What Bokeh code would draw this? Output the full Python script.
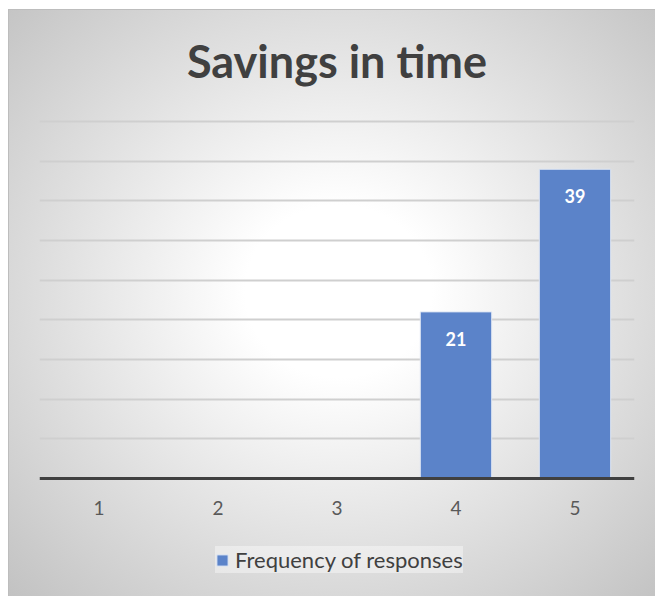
from bokeh.plotting import figure
from bokeh.models import ColumnDataSource, Range1d, FixedTicker, LabelSet, Legend, LegendItem
from bokeh.core.properties import value
from bokeh.embed import file_html
from bokeh.resources import INLINE

# Survey answers on a 1-5 scale and how many responses each got
categories = ["1", "2", "3", "4", "5"]
frequency = [0, 0, 0, 21, 39]
labels = ["", "", "", "21", "39"]
grid_ticks = [5, 10, 15, 20, 25, 30, 35, 40, 45]
chart_title = "Savings in time"

source = ColumnDataSource(dict(cat=categories, freq=frequency, lab=labels))

FONT = "Lato"

# The frame fills the whole chart area: the heading sits above the value 45,
# the category labels and the legend below zero, where the axis is pinned.
p = figure(
    x_range=categories,
    y_range=Range1d(-15.04, 59.03),
    width=647, height=587,
    output_backend="svg", toolbar_location=None,
    min_border_left=30, min_border_right=22,
    min_border_top=0, min_border_bottom=0,
    margin=(9, 0, 0, 8),
    background_fill_color=None, border_fill_color=None,
    outline_line_color=None,
    styles={
        "background": "radial-gradient(ellipse farthest-corner at 51% 48%, #ffffff 0%, #ffffff 20%, #c2c2c2 100%)",
        "border-top": "1px solid #bdbdbd",
        "border-left": "1px solid #bdbdbd",
    },
)

# chart heading, centred over the middle category
p.text(x=[categories[2]], y=[52.6], text=[chart_title],
       text_font=value(FONT), text_font_style="bold", text_font_size="45px",
       text_color="#404040", text_align="center", text_baseline="middle")

bars = p.vbar(x="cat", top="freq", width=0.6, source=source,
              fill_color="#5b83c9", line_color="#dfe7f4", line_width=1)

p.add_layout(LabelSet(x="cat", y="freq", text="lab", source=source,
                      text_color="white", text_font=value(FONT), text_font_style="bold",
                      text_font_size="18px", text_align="center",
                      text_baseline="middle", y_offset=-27))

# horizontal gridlines only, no value axis
p.yaxis.visible = False
p.ygrid.ticker = FixedTicker(ticks=grid_ticks)
p.ygrid.grid_line_color = "#cfcfcf"
p.ygrid.grid_line_width = 2
p.xgrid.grid_line_color = None

p.xaxis.fixed_location = 0
p.xaxis.axis_line_color = "#404040"
p.xaxis.axis_line_width = 3
p.xaxis.major_tick_line_color = None
p.xaxis.minor_tick_line_color = None
p.xaxis.major_label_text_font = FONT
p.xaxis.major_label_text_font_size = "19px"
p.xaxis.major_label_text_color = "#595959"
p.xaxis.major_label_standoff = 17

legend = Legend(items=[LegendItem(label="Frequency of responses", renderers=[bars])],
                location=(176, 24), orientation="horizontal",
                background_fill_color="white", background_fill_alpha=0.4,
                border_line_color=None,
                label_text_font=FONT, label_text_font_size="22px",
                label_text_color="#404040",
                glyph_width=14, glyph_height=14, padding=14, spacing=0,
                label_standoff=6)
p.add_layout(legend, "center")

open("out.html", "w").write(file_html(p, INLINE))
